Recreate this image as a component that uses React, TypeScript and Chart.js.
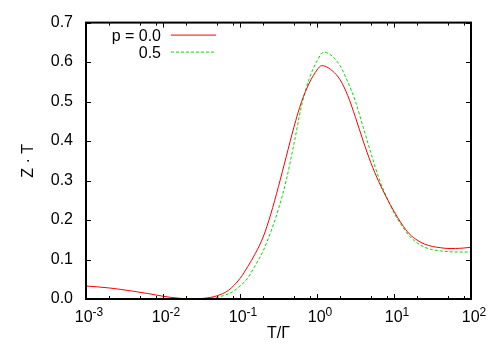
import React, { useEffect, useRef } from "react";
import { Chart, registerables } from "chart.js";

Chart.register(...registerables);

// ---- data ----
const seriesLabels = ["p = 0.0", "0.5"];
const seriesColors = ["#ff0000", "#00e000"];

const redT = [0.001, 0.002, 0.004, 0.0063, 0.01, 0.016, 0.025, 0.035, 0.05, 0.0708, 0.1, 0.126, 0.158, 0.2, 0.251, 0.316, 0.398, 0.501, 0.631, 0.794, 1.0, 1.15, 1.26, 1.58, 2.0, 2.51, 3.16, 3.98, 5.01, 6.31, 7.94, 10, 12.6, 15.8, 20, 25.1, 31.6, 39.8, 50.1, 63.1, 79.4, 100];
const redZT = [0.033, 0.028, 0.02, 0.014, 0.007, 0.002, 0.0, 0.002, 0.008, 0.022, 0.052, 0.082, 0.115, 0.157, 0.215, 0.285, 0.36, 0.435, 0.5, 0.547, 0.58, 0.591, 0.59, 0.578, 0.555, 0.515, 0.46, 0.4, 0.345, 0.298, 0.258, 0.222, 0.19, 0.165, 0.149, 0.139, 0.133, 0.13, 0.128, 0.128, 0.129, 0.131];

const greenT = [0.001, 0.005, 0.01, 0.02, 0.03, 0.045, 0.055, 0.0794, 0.1, 0.126, 0.158, 0.2, 0.251, 0.316, 0.398, 0.501, 0.631, 0.794, 1.0, 1.23, 1.58, 2.0, 2.51, 3.16, 3.98, 5.01, 6.31, 7.94, 10, 12.6, 15.8, 20, 25.1, 31.6, 39.8, 50.1, 63.1, 79.4, 100];
const greenZT = [0.0, 0.0, 0.0, 0.0, 0.001, 0.003, 0.006, 0.018, 0.033, 0.053, 0.085, 0.122, 0.17, 0.228, 0.3, 0.392, 0.49, 0.558, 0.603, 0.625, 0.615, 0.59, 0.55, 0.5, 0.435, 0.37, 0.308, 0.26, 0.218, 0.186, 0.16, 0.142, 0.131, 0.125, 0.122, 0.12, 0.119, 0.119, 0.119];

const xTickValues = [0.001, 0.01, 0.1, 1, 10, 100];
const xTickExponents = ["-3", "-2", "-1", "0", "1", "2"];
const xMinorMultipliers = [2, 5, 8];
const yTickValues = [0, 0.1, 0.2, 0.3, 0.4, 0.5, 0.6, 0.7];

const FONT = '"Liberation Sans", Arial, Helvetica, sans-serif';

const framePlugin = {
  id: "gnuplotFrame",
  afterDraw(chart: any) {
    const { ctx, chartArea: a, scales } = chart;
    const xs = scales.x;
    const ys = scales.y;
    ctx.save();
    ctx.strokeStyle = "#000";
    ctx.lineWidth = 1;
    ctx.beginPath();
    // y ticks (left and right, inward)
    yTickValues.forEach((v) => {
      const py = Math.round(ys.getPixelForValue(v)) + 0.5;
      ctx.moveTo(a.left, py);
      ctx.lineTo(a.left + 5, py);
      ctx.moveTo(a.right, py);
      ctx.lineTo(a.right - 5, py);
    });
    // x major ticks
    xTickValues.forEach((v) => {
      const px = Math.round(xs.getPixelForValue(v)) + 0.5;
      ctx.moveTo(px, a.bottom);
      ctx.lineTo(px, a.bottom - 5);
      ctx.moveTo(px, a.top);
      ctx.lineTo(px, a.top + 5);
    });
    // x minor ticks
    xTickValues.slice(0, -1).forEach((d) => {
      xMinorMultipliers.forEach((m) => {
        const px = Math.round(xs.getPixelForValue(d * m)) + 0.5;
        ctx.moveTo(px, a.bottom);
        ctx.lineTo(px, a.bottom - 3);
        ctx.moveTo(px, a.top);
        ctx.lineTo(px, a.top + 3);
      });
    });
    ctx.stroke();

    // frame
    ctx.lineWidth = 2;
    ctx.strokeRect(a.left, a.top, a.right - a.left, a.bottom - a.top);

    // x tick labels with superscripts
    ctx.fillStyle = "#000";
    ctx.textBaseline = "alphabetic";
    ctx.textAlign = "left";
    xTickValues.forEach((v, i) => {
      const px = xs.getPixelForValue(v);
      ctx.font = `16px ${FONT}`;
      const wBase = ctx.measureText("10").width;
      ctx.font = `12px ${FONT}`;
      const wExp = ctx.measureText(xTickExponents[i]).width;
      const start = px + 3 - (wBase + wExp) / 2;
      ctx.font = `16px ${FONT}`;
      ctx.fillText("10", start, a.bottom + 23);
      ctx.font = `12px ${FONT}`;
      ctx.fillText(xTickExponents[i], start + wBase, a.bottom + 17);
    });

    // legend (gnuplot style: text then line sample)
    ctx.font = `16px ${FONT}`;
    ctx.textAlign = "right";
    seriesLabels.forEach((label, i) => {
      const ly = a.top + 12.5 + i * 17;
      ctx.fillStyle = "#000";
      ctx.fillText(label, a.left + 75, ly + 6);
      ctx.strokeStyle = seriesColors[i];
      ctx.lineWidth = 1;
      ctx.setLineDash(i === 1 ? [3, 2] : []);
      ctx.beginPath();
      ctx.moveTo(a.left + 85, ly);
      ctx.lineTo(a.left + 130, ly);
      ctx.stroke();
    });
    ctx.setLineDash([]);
    ctx.restore();
  },
};

export default function App() {
  const ref = useRef<HTMLCanvasElement | null>(null);

  useEffect(() => {
    document.body.style.margin = "0";
    const canvas = ref.current;
    if (!canvas) return;
    const chart = new Chart(canvas, {
      type: "line",
      data: {
        datasets: [
          {
            label: seriesLabels[0],
            data: redT.map((t, i) => ({ x: t, y: redZT[i] })),
            borderColor: seriesColors[0],
            borderWidth: 1,
            pointRadius: 0,
            cubicInterpolationMode: "monotone",
            fill: false,
          },
          {
            label: seriesLabels[1],
            data: greenT.map((t, i) => ({ x: t, y: greenZT[i] })),
            borderColor: seriesColors[1],
            borderWidth: 1,
            borderDash: [3, 2],
            pointRadius: 0,
            cubicInterpolationMode: "monotone",
            fill: false,
          },
        ],
      },
      options: {
        responsive: false,
        animation: false,
        layout: { padding: { top: 20, right: 29, left: 0, bottom: 0 } },
        plugins: {
          legend: { display: false },
          tooltip: { enabled: false },
        },
        scales: {
          x: {
            type: "logarithmic",
            min: 0.001,
            max: 100,
            grid: { display: false },
            border: { display: false },
            ticks: { display: false },
            title: {
              display: true,
              text: "T/Γ",
              color: "#000",
              font: { family: FONT, size: 16 },
              padding: { top: 0, bottom: 7 },
            },
            afterFit: (scale: any) => {
              scale.height = 51;
            },
          },
          y: {
            type: "linear",
            min: 0,
            max: 0.7,
            grid: { display: false, drawTicks: false },
            border: { display: false },
            ticks: {
              stepSize: 0.1,
              color: "#000",
              font: { family: FONT, size: 16 },
              padding: 13,
              callback: (v: any) => Number(v).toFixed(1),
            },
            title: {
              display: true,
              text: "Z · T",
              color: "#000",
              font: { family: FONT, size: 16 },
              padding: { top: 19, bottom: 0 },
            },
            afterFit: (scale: any) => {
              scale.width = 86;
            },
          },
        },
      },
      plugins: [framePlugin],
    });
    return () => chart.destroy();
  }, []);

  return (
    <div style={{ position: "fixed", left: 0, top: 0, width: 500, height: 350 }}>
      <canvas ref={ref} width={500} height={350} style={{ display: "block" }} />
    </div>
  );
}
